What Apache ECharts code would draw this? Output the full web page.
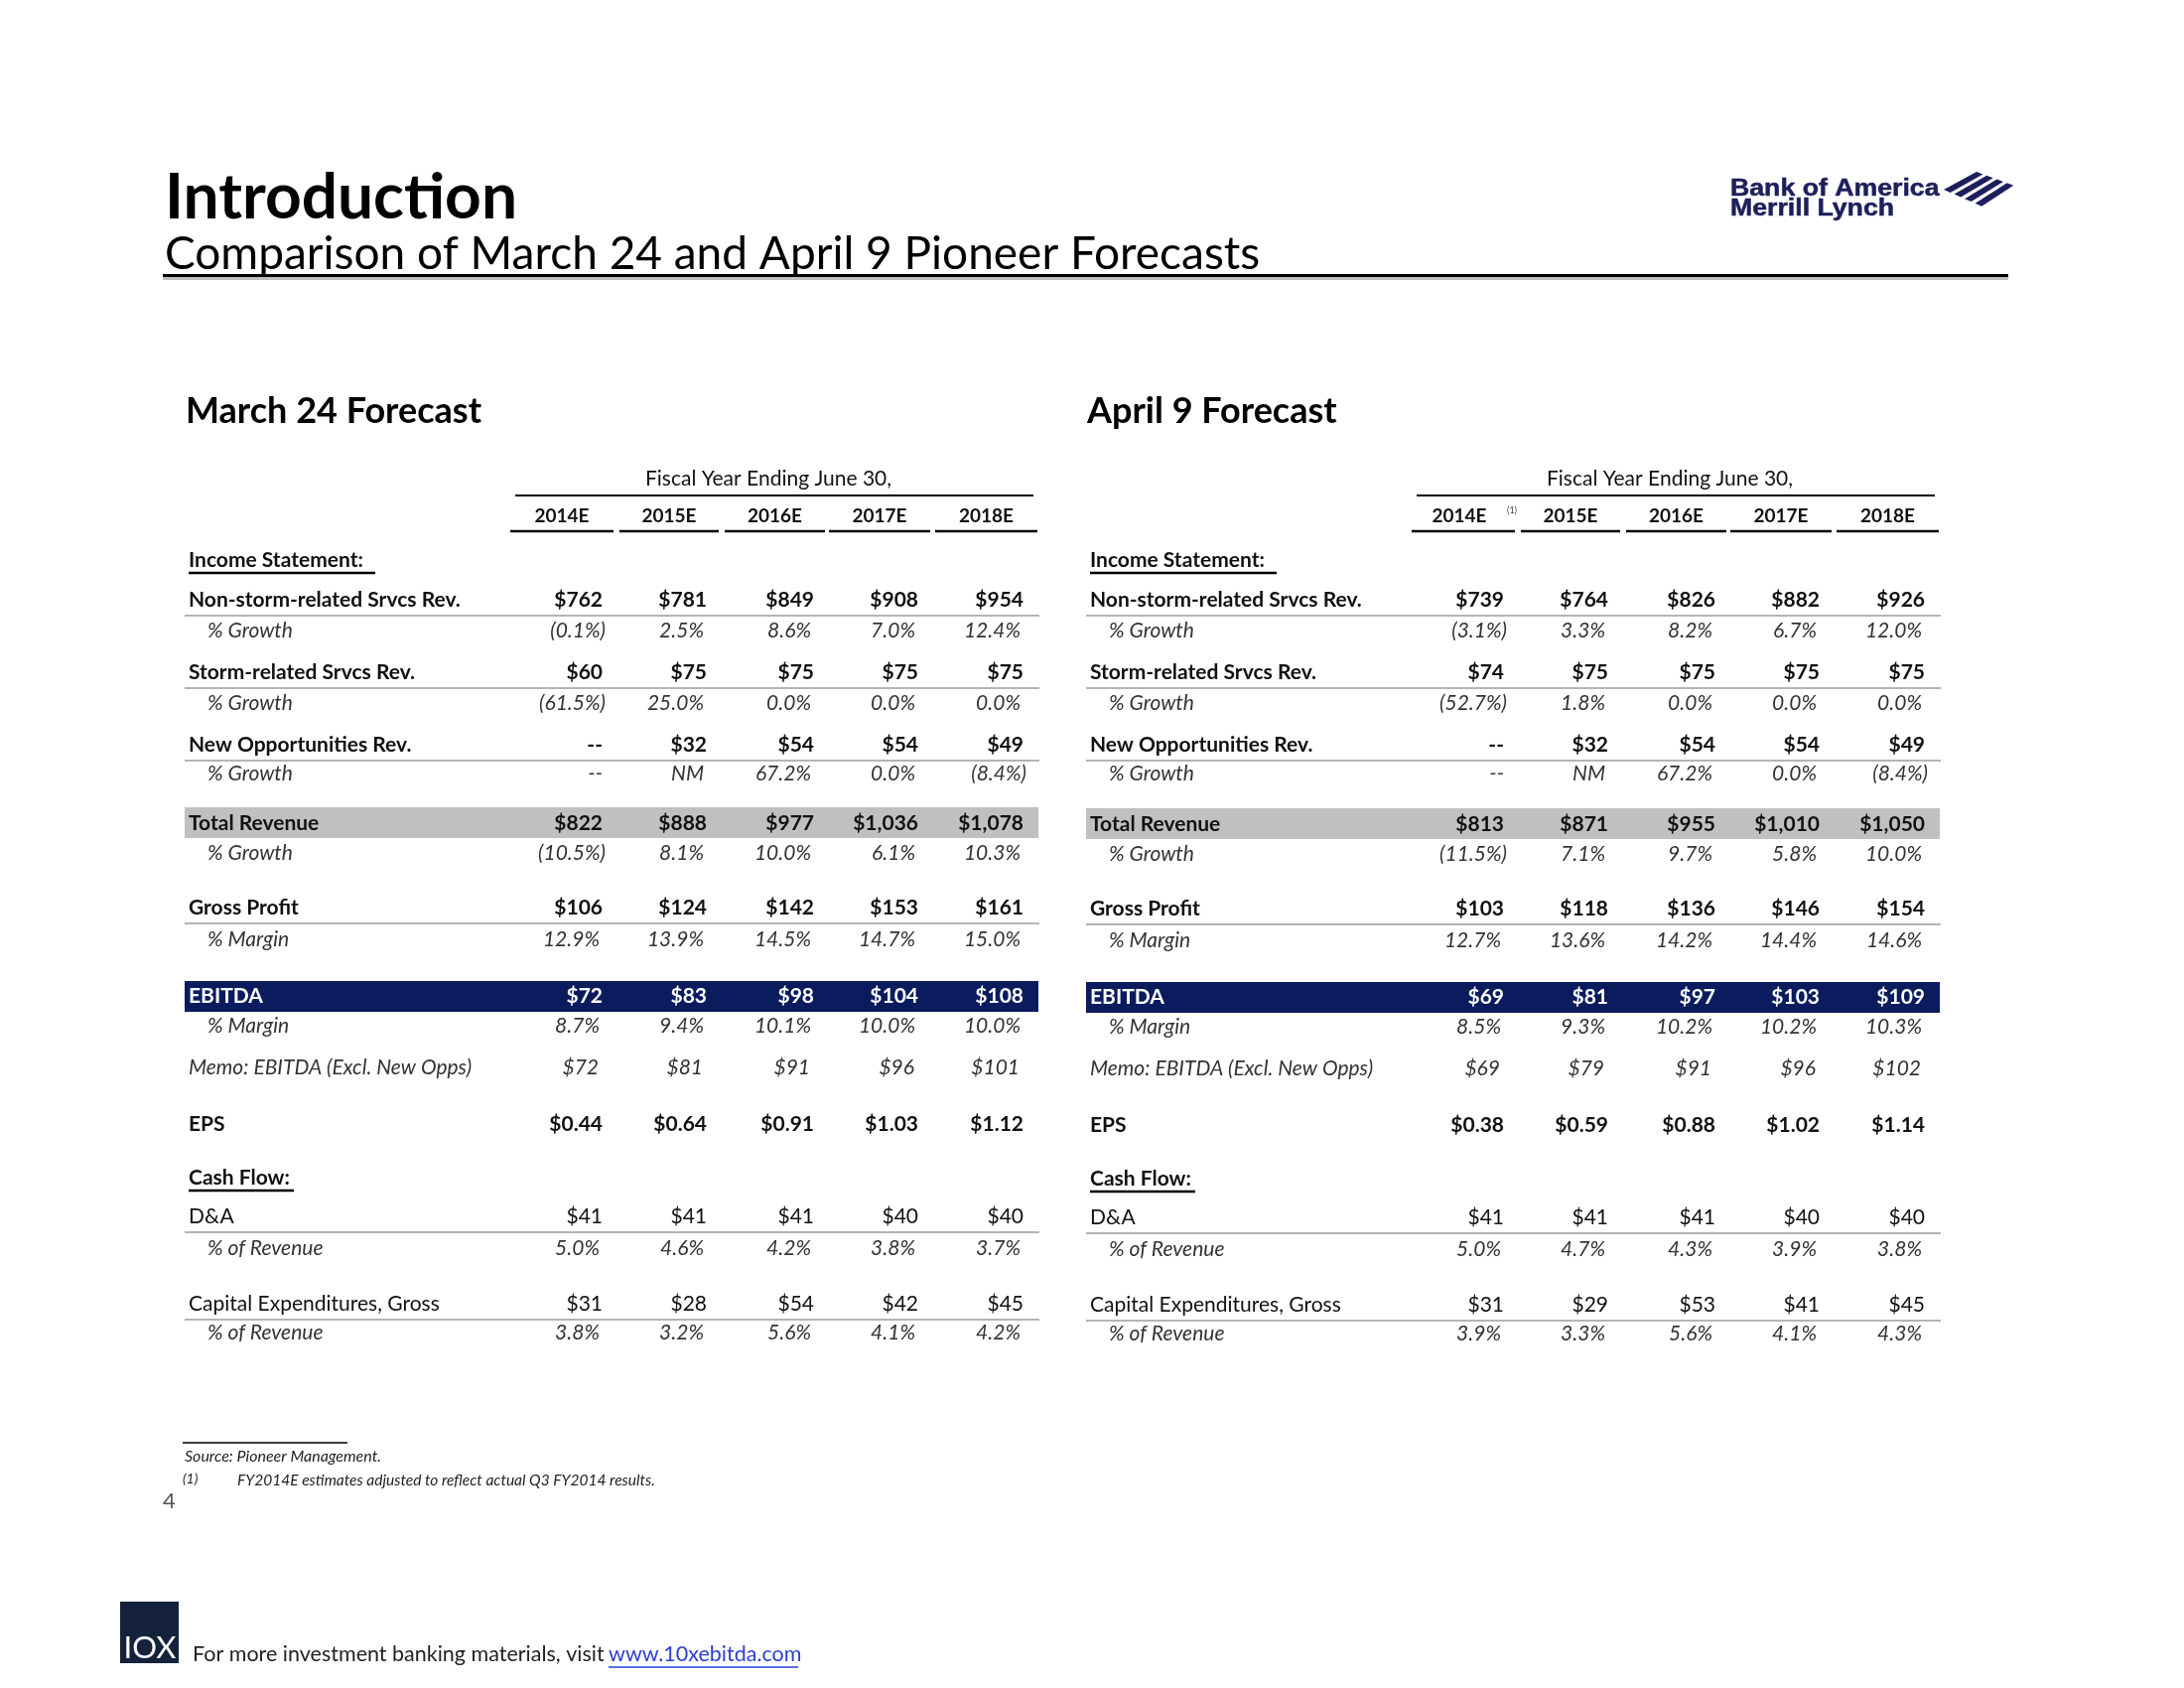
<!DOCTYPE html>
<html><head><meta charset="utf-8">
<script src="https://cdn.jsdelivr.net/npm/echarts@6/dist/echarts.min.js"></script>
<style>html,body{margin:0;padding:0;background:#fff}#c{width:2200px;height:1700px}</style>
</head><body><div id="c"></div>
<script>
// ---------- DATA ----------
const years = ['2014E', '2015E', '2016E', '2017E', '2018E'];
const rowLabels = ['Income Statement:', 'Non-storm-related Srvcs Rev.', '% Growth', 'Storm-related Srvcs Rev.', '% Growth',
  'New Opportunities Rev.', '% Growth', 'Total Revenue', '% Growth', 'Gross Profit', '% Margin', 'EBITDA', '% Margin',
  'Memo: EBITDA (Excl. New Opps)', 'EPS', 'Cash Flow:', 'D&A', '% of Revenue', 'Capital Expenditures, Gross', '% of Revenue'];

// March 24 forecast
const m24NonStormRev = [762, 781, 849, 908, 954];
const m24NonStormGrowth = [-0.1, 2.5, 8.6, 7.0, 12.4];
const m24StormRev = [60, 75, 75, 75, 75];
const m24StormGrowth = [-61.5, 25.0, 0.0, 0.0, 0.0];
const m24NewOppRev = [null, 32, 54, 54, 49];
const m24NewOppGrowth = [null, 'NM', 67.2, 0.0, -8.4];
const m24TotalRev = [822, 888, 977, 1036, 1078];
const m24TotalGrowth = [-10.5, 8.1, 10.0, 6.1, 10.3];
const m24GrossProfit = [106, 124, 142, 153, 161];
const m24GrossMargin = [12.9, 13.9, 14.5, 14.7, 15.0];
const m24Ebitda = [72, 83, 98, 104, 108];
const m24EbitdaMargin = [8.7, 9.4, 10.1, 10.0, 10.0];
const m24MemoEbitda = [72, 81, 91, 96, 101];
const m24Eps = [0.44, 0.64, 0.91, 1.03, 1.12];
const m24DA = [41, 41, 41, 40, 40];
const m24DAPct = [5.0, 4.6, 4.2, 3.8, 3.7];
const m24Capex = [31, 28, 54, 42, 45];
const m24CapexPct = [3.8, 3.2, 5.6, 4.1, 4.2];

// April 9 forecast
const a9NonStormRev = [739, 764, 826, 882, 926];
const a9NonStormGrowth = [-3.1, 3.3, 8.2, 6.7, 12.0];
const a9StormRev = [74, 75, 75, 75, 75];
const a9StormGrowth = [-52.7, 1.8, 0.0, 0.0, 0.0];
const a9NewOppRev = [null, 32, 54, 54, 49];
const a9NewOppGrowth = [null, 'NM', 67.2, 0.0, -8.4];
const a9TotalRev = [813, 871, 955, 1010, 1050];
const a9TotalGrowth = [-11.5, 7.1, 9.7, 5.8, 10.0];
const a9GrossProfit = [103, 118, 136, 146, 154];
const a9GrossMargin = [12.7, 13.6, 14.2, 14.4, 14.6];
const a9Ebitda = [69, 81, 97, 103, 109];
const a9EbitdaMargin = [8.5, 9.3, 10.2, 10.2, 10.3];
const a9MemoEbitda = [69, 79, 91, 96, 102];
const a9Eps = [0.38, 0.59, 0.88, 1.02, 1.14];
const a9DA = [41, 41, 41, 40, 40];
const a9DAPct = [5.0, 4.7, 4.3, 3.9, 3.8];
const a9Capex = [31, 29, 53, 41, 45];
const a9CapexPct = [3.9, 3.3, 5.6, 4.1, 4.3];

// ---------- TABLE STRUCTURE ----------
const m24Rows = [null, m24NonStormRev, m24NonStormGrowth, m24StormRev, m24StormGrowth, m24NewOppRev, m24NewOppGrowth,
  m24TotalRev, m24TotalGrowth, m24GrossProfit, m24GrossMargin, m24Ebitda, m24EbitdaMargin, m24MemoEbitda, m24Eps,
  null, m24DA, m24DAPct, m24Capex, m24CapexPct];
const a9Rows = [null, a9NonStormRev, a9NonStormGrowth, a9StormRev, a9StormGrowth, a9NewOppRev, a9NewOppGrowth,
  a9TotalRev, a9TotalGrowth, a9GrossProfit, a9GrossMargin, a9Ebitda, a9EbitdaMargin, a9MemoEbitda, a9Eps,
  null, a9DA, a9DAPct, a9Capex, a9CapexPct];
// row kinds: hdr, main, sub, band, navy, memo, eps, reg
const rowKinds = ['hdr', 'main', 'sub', 'main', 'sub', 'main', 'sub', 'band', 'sub', 'main', 'sub', 'navy', 'sub',
  'memo', 'eps', 'hdr', 'reg', 'sub', 'reg', 'sub'];
const rowFormat = ['', 'usd', 'pct', 'usd', 'pct', 'usd', 'pct', 'usd', 'pct', 'usd', 'pct', 'usd', 'pct', 'usd', 'eps',
  '', 'usd', 'pct', 'usd', 'pct'];

// ---------- LAYOUT (pixels) ----------
const FONT = 'Lato, "Liberation Sans", sans-serif';
const ROW_Y = [564, 604, 635, 677, 708, 750, 779, 829, 859, 914, 946, 1003, 1033, 1075, 1132, 1186, 1225, 1257, 1313, 1342];
const COL_RIGHT = [607, 712, 820, 925, 1031];
const YEAR_SEG = [[514, 618], [624, 724], [730, 831], [835, 937], [942, 1045]];
const SEP_ROWS = [1, 3, 5, 9, 16, 18];
const HDR_UNDER = {0: 188, 15: 106};
const INK = '#111';
const SUBINK = '#333';

function fmt(v, f) {
  if (v === null || v === undefined) return {t: '--', off: 0};
  if (typeof v === 'string') return {t: v, off: -3};
  if (f === 'usd') return {t: '$' + v.toLocaleString('en-US'), off: 0};
  if (f === 'eps') return {t: '$' + v.toFixed(2), off: 0};
  if (v < 0) return {t: '(' + Math.abs(v).toFixed(1) + '%)', off: 3};
  return {t: v.toFixed(1) + '%', off: -3};
}

function txt(x, y, text, o) {
  o = o || {};
  const el = {
    type: 'text', x: x, y: y, silent: true, z: o.z || 10,
    style: {
      text: text, fill: o.fill || INK,
      font: (o.style || 'normal') + ' ' + (o.weight || 'normal') + ' ' + (o.size || 21) + 'px ' + (o.family || FONT),
      align: o.align || 'left', verticalAlign: o.va || 'middle'
    }
  };
  if (o.scaleX) { el.scaleX = o.scaleX; }
  if (o.stroke) { el.style.stroke = o.stroke; el.style.lineWidth = o.lw || 0.6; }
  return el;
}
function line(x1, y1, x2, y2, color, w) {
  return {type: 'line', silent: true, z: 5, shape: {x1: x1, y1: y1, x2: x2, y2: y2}, style: {stroke: color, lineWidth: w}};
}
function rect(x, y, w, h, color) {
  return {type: 'rect', silent: true, z: 1, shape: {x: x, y: y, width: w, height: h}, style: {fill: color}};
}

function buildTable(dx, dy, title, rows, sup) {
  const els = [];
  els.push(txt(187 + dx, 414, title, {weight: 'bold', size: 36, fill: '#000'}));
  els.push(txt(774 + dx, 482, 'Fiscal Year Ending June 30,', {align: 'center', size: 21}));
  els.push(line(519 + dx, 499, 1041 + dx, 499, '#000', 2));
  years.forEach((y, i) => {
    const c = (YEAR_SEG[i][0] + YEAR_SEG[i][1]) / 2 + dx - (sup && i === 0 ? 4 : 0);
    els.push(txt(c, 520, y, {align: 'center', weight: 'bold', size: 19}));
    els.push(line(YEAR_SEG[i][0] + dx, 535, YEAR_SEG[i][1] + dx, 535, '#000', 2.5));
  });
  if (sup) els.push(txt(1518, 514, '(1)', {size: 9, fill: '#444'}));
  rowLabels.forEach((lab, r) => {
    const kind = rowKinds[r];
    const y = ROW_Y[r] + (r >= 7 ? dy : 0);
    let lx = 190 + dx, o = {};
    if (kind === 'hdr') { o = {weight: 'bold'}; }
    else if (kind === 'main' || kind === 'band' || kind === 'eps') { o = {weight: 'bold'}; }
    else if (kind === 'navy') { o = {weight: 'bold', fill: '#fff'}; }
    else if (kind === 'sub') { o = {style: 'italic', fill: SUBINK}; lx = 209 + dx; }
    else if (kind === 'memo') { o = {style: 'italic', fill: SUBINK}; }
    if (kind === 'band') els.push(rect(186 + dx, y - 16, 860, 31, '#c0c0c0'));
    if (kind === 'navy') els.push(rect(186 + dx, y - 15, 860, 31, '#0a1c5e'));
    if (SEP_ROWS.indexOf(r) >= 0) els.push(line(186 + dx, y + 16, 1047 + dx, y + 16, '#b4b4b4', 2));
    els.push(txt(lx, y, lab, o));
    if (kind === 'hdr') els.push(line(190 + dx, y + 13, 190 + dx + HDR_UNDER[r], y + 13, '#000', 2.5));
    const vals = rows[r];
    if (vals) {
      vals.forEach((v, i) => {
        const f = fmt(v, rowFormat[r]);
        let off = f.off;
        if (kind === 'memo') off = -4;
        els.push(txt(COL_RIGHT[i] + dx + off, y, f.t, Object.assign({}, o, {align: 'right'})));
      });
    }
  });
  return els;
}

// ---------- PAGE ----------
const els = [];
els.push(txt(166, 199, 'Introduction', {weight: 'bold', size: 64, fill: '#000'}));
els.push(txt(166, 256, 'Comparison of March 24 and April 9 Pioneer Forecasts', {size: 46, fill: '#000'}));
els.push(line(164, 277.5, 2023, 277.5, '#000', 3));
els.push(line(164, 280.5, 2023, 280.5, '#bdbdbd', 3));
// Bank of America Merrill Lynch logo
const LOGO = '#1d1f5c';
const LOGO_FONT = '"Liberation Sans", Arial, sans-serif';
els.push(txt(1743, 191, 'Bank of America', {weight: 'bold', size: 23, fill: LOGO, family: LOGO_FONT, scaleX: 1.16, stroke: LOGO, lw: 0.5}));
els.push(txt(1743, 211, 'Merrill Lynch', {weight: 'bold', size: 23, fill: LOGO, family: LOGO_FONT, scaleX: 1.16, stroke: LOGO, lw: 0.5}));
// scaleX is applied around the element origin; keep it anchored at left
els.forEach(e => { if (e.scaleX) { e.originX = 0; e.x = 1743; e.style.x = 0; } });
(function flag() {
  const L = [1958, 191], T = [1991, 173], R = [2029, 187], B = [1997, 208];
  const lerp = (a, b, s) => [a[0] + (b[0] - a[0]) * s, a[1] + (b[1] - a[1]) * s];
  [0, 0.27, 0.54, 0.81].forEach(s0 => {
    const s1 = s0 + 0.17;
    els.push({type: 'polygon', silent: true, z: 5, shape: {points: [
      lerp(L, B, s0), lerp(T, R, s0), lerp(T, R, s1), lerp(L, B, s1)]}, style: {fill: LOGO}});
  });
})();

buildTable(0, 0, 'March 24 Forecast', m24Rows, false).forEach(e => els.push(e));
buildTable(908, 1, 'April 9 Forecast', a9Rows, true).forEach(e => els.push(e));

// footnotes
els.push(line(184, 1453, 350, 1453, '#000', 1.5));
els.push(txt(186, 1467, 'Source: Pioneer Management.', {style: 'italic', size: 16, fill: '#222'}));
els.push(txt(184, 1489, '(1)', {style: 'italic', size: 14, fill: '#222'}));
els.push(txt(239, 1491, 'FY2014E estimates adjusted to reflect actual Q3 FY2014 results.', {style: 'italic', size: 15.5, fill: '#222'}));
els.push(txt(164, 1512, '4', {size: 22, fill: '#555'}));
// 10X footer
els.push(rect(121, 1613, 59, 62, '#15223b'));
els.push(txt(151, 1675, 'IOX', {size: 31, fill: '#fff', align: 'center', va: 'bottom'}));
els.push(txt(194, 1666, 'For more investment banking materials, visit', {size: 21.5, fill: '#222'}));
els.push(txt(613, 1666, 'www.10xebitda.com', {size: 21.5, fill: '#2b3fd1'}));
els.push(line(613, 1679, 804, 1679, '#2b3fd1', 1.5));

const chart = echarts.init(document.getElementById('c'), null, {renderer: 'canvas', width: 2200, height: 1700});
chart.setOption({backgroundColor: '#fff', animation: false, graphic: {elements: els}});
</script></body></html>
